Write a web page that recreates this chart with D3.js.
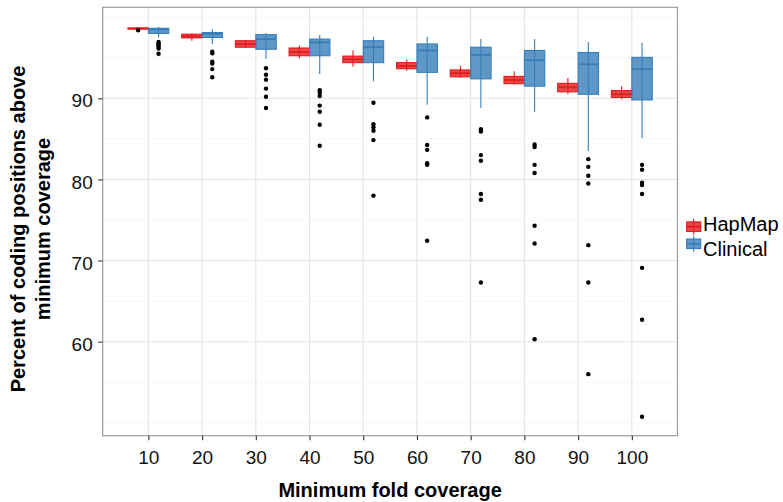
<!DOCTYPE html>
<html>
<head>
<meta charset="utf-8">
<script src="https://cdn.jsdelivr.net/npm/d3@7"></script>
<style>
  html, body { margin: 0; padding: 0; background: #fff; }
  svg { display: block; font-family: "Liberation Sans", Arial, Helvetica, sans-serif; }
</style>
</head>
<body>
<svg id="chart" width="783" height="502"></svg>
<script>
// Minimum fold coverage levels on the x axis
const coverage = [10, 20, 30, 40, 50, 60, 70, 80, 90, 100];
const yTicks = [60, 70, 80, 90];
const yMinor = [50, 55, 65, 75, 85, 95, 100];
const seriesNames = ["HapMap", "Clinical"];
const seriesColors = ["#E41A1C", "#377EB8"];

// Box statistics per coverage level: lower whisker, Q1, median, Q3, upper whisker
const hapmapLow    = [98.52, 97.10, 96.20, 94.90, 93.90, 93.40, 92.55, 91.70, 90.50, 89.90];
const hapmapQ1     = [98.58, 97.45, 96.30, 95.25, 94.40, 93.65, 92.65, 91.80, 90.80, 90.10];
const hapmapMedian = [98.62, 97.65, 96.70, 95.70, 94.80, 94.00, 93.10, 92.25, 91.35, 90.50];
const hapmapQ3     = [98.66, 97.90, 97.10, 96.20, 95.20, 94.40, 93.50, 92.70, 91.85, 90.95];
const hapmapHigh   = [98.70, 98.00, 97.20, 96.50, 95.90, 94.80, 94.00, 93.35, 92.50, 91.50];
const hapmapOutliers = [[98.40], [], [], [], [], [], [], [], [], []];

const clinicalLow    = [97.52, 96.70, 94.85, 93.00, 92.10, 89.20, 88.80, 88.35, 83.50, 85.10];
const clinicalQ1     = [98.00, 97.50, 96.05, 95.25, 94.40, 93.20, 92.40, 91.50, 90.50, 89.80];
const clinicalMedian = [98.50, 97.95, 97.30, 96.90, 96.30, 95.90, 95.35, 94.70, 94.20, 93.60];
const clinicalQ3     = [98.63, 98.10, 97.85, 97.30, 97.10, 96.70, 96.30, 95.90, 95.65, 95.05];
const clinicalHigh   = [98.83, 98.50, 98.05, 97.80, 97.60, 97.60, 97.30, 97.30, 96.95, 96.85];
const clinicalOutliers = [
  [96.95, 96.75, 96.55, 96.35, 96.15, 95.50],
  [95.75, 95.55, 94.50, 94.30, 93.60, 92.60],
  [93.70, 92.90, 92.30, 91.20, 90.20, 88.80],
  [91.00, 90.68, 90.30, 89.10, 88.35, 86.75, 84.15],
  [89.45, 86.80, 86.43, 86.00, 84.85, 78.00],
  [87.65, 84.25, 83.65, 82.00, 81.80, 72.45],
  [86.20, 85.90, 83.00, 82.30, 78.20, 77.50, 67.30],
  [84.30, 84.00, 81.80, 80.80, 74.30, 72.10, 60.30],
  [82.50, 81.55, 80.45, 79.50, 71.90, 67.30, 56.00],
  [81.80, 81.20, 79.60, 79.30, 78.20, 69.10, 62.70, 50.75]
];

// Assemble one record per box
const boxes = [];
coverage.forEach((c, i) => {
  boxes.push({ cov: c, s: 0, low: hapmapLow[i], q1: hapmapQ1[i], med: hapmapMedian[i],
               q3: hapmapQ3[i], high: hapmapHigh[i], out: hapmapOutliers[i] });
  boxes.push({ cov: c, s: 1, low: clinicalLow[i], q1: clinicalQ1[i], med: clinicalMedian[i],
               q3: clinicalQ3[i], high: clinicalHigh[i], out: clinicalOutliers[i] });
});

const panel = { left: 102.7, right: 677.5, top: 7.3, bottom: 435.7 };
const x = d3.scaleLinear().domain([1.5, 108.5]).range([panel.left, panel.right]);
const y = d3.scaleLinear().domain([48.41, 101.22]).range([panel.bottom, panel.top]);
const boxW = 3.8;                         // width of one dodged box, in coverage units
const offset = s => (s === 0 ? -boxW / 2 : boxW / 2);

const svg = d3.select("#chart");

// Panel background and grid
svg.append("rect")
  .attr("x", panel.left).attr("y", panel.top)
  .attr("width", panel.right - panel.left).attr("height", panel.bottom - panel.top)
  .attr("fill", "#fff");

const grid = svg.append("g");
grid.selectAll("line.minor").data(yMinor).join("line")
  .attr("class", "minor")
  .attr("x1", panel.left).attr("x2", panel.right)
  .attr("y1", d => y(d)).attr("y2", d => y(d))
  .attr("stroke", "#f3f3f3").attr("stroke-width", 0.7);
grid.selectAll("line.majorY").data(yTicks).join("line")
  .attr("class", "majorY")
  .attr("x1", panel.left).attr("x2", panel.right)
  .attr("y1", d => y(d)).attr("y2", d => y(d))
  .attr("stroke", "#e4e4e4").attr("stroke-width", 1.1);
grid.selectAll("line.majorX").data(coverage).join("line")
  .attr("class", "majorX")
  .attr("x1", d => x(d)).attr("x2", d => x(d))
  .attr("y1", panel.top).attr("y2", panel.bottom)
  .attr("stroke", "#e4e4e4").attr("stroke-width", 1.1);

// Boxplots
const marks = svg.append("g");
const g = marks.selectAll("g.box").data(boxes).join("g").attr("class", "box");

g.append("line")
  .attr("x1", d => x(d.cov + offset(d.s))).attr("x2", d => x(d.cov + offset(d.s)))
  .attr("y1", d => y(d.high)).attr("y2", d => y(d.low))
  .attr("stroke", d => seriesColors[d.s]).attr("stroke-width", 1.1);

g.append("rect")
  .attr("x", d => x(d.cov + offset(d.s) - boxW / 2))
  .attr("width", d => x(d.cov + offset(d.s) + boxW / 2) - x(d.cov + offset(d.s) - boxW / 2))
  .attr("y", d => y(d.q3))
  .attr("height", d => Math.max(y(d.q1) - y(d.q3), 1))
  .attr("fill", d => seriesColors[d.s]).attr("fill-opacity", 0.8)
  .attr("stroke", d => seriesColors[d.s]).attr("stroke-width", 1.1);

g.append("line")
  .attr("x1", d => x(d.cov + offset(d.s) - boxW / 2))
  .attr("x2", d => x(d.cov + offset(d.s) + boxW / 2))
  .attr("y1", d => y(d.med)).attr("y2", d => y(d.med))
  .attr("stroke", d => seriesColors[d.s]).attr("stroke-width", 1.8);

g.selectAll("circle").data(d => d.out.map(v => ({ cov: d.cov, s: d.s, v }))).join("circle")
  .attr("cx", d => x(d.cov + offset(d.s)))
  .attr("cy", d => y(d.v))
  .attr("r", 2.2)
  .attr("fill", "#000");

// Panel border
svg.append("rect")
  .attr("x", panel.left).attr("y", panel.top)
  .attr("width", panel.right - panel.left).attr("height", panel.bottom - panel.top)
  .attr("fill", "none").attr("stroke", "#9c9c9c").attr("stroke-width", 1.2);

// Axes
const xAxis = svg.append("g")
  .attr("transform", `translate(0,${panel.bottom})`)
  .call(d3.axisBottom(x).tickValues(coverage).tickSize(4.5).tickPadding(5).tickFormat(d3.format("d")));
const yAxis = svg.append("g")
  .attr("transform", `translate(${panel.left},0)`)
  .call(d3.axisLeft(y).tickValues(yTicks).tickSize(4.5).tickPadding(5.5).tickFormat(d3.format("d")));

[xAxis, yAxis].forEach(a => {
  a.select(".domain").remove();
  a.selectAll(".tick line").attr("stroke", "#333").attr("stroke-width", 1.1);
  a.selectAll(".tick text")
    .attr("fill", "#111").attr("font-size", 19)
    .attr("font-family", "'Liberation Sans', Arial, Helvetica, sans-serif");
});
xAxis.selectAll(".tick text").attr("dy", null).attr("y", 28.6);
yAxis.selectAll(".tick text").attr("dy", null).attr("y", 8.6);

// Axis titles
svg.append("text")
  .attr("x", (panel.left + panel.right) / 2).attr("y", 496.5)
  .attr("text-anchor", "middle")
  .attr("font-size", 20).attr("font-weight", "bold").attr("fill", "#000")
  .text("Minimum fold coverage");

const yTitle = svg.append("text")
  .attr("transform", "translate(0,229) rotate(-90)")
  .attr("text-anchor", "middle")
  .attr("font-size", 20).attr("font-weight", "bold").attr("fill", "#000");
yTitle.append("tspan").attr("x", 0).attr("y", 25).text("Percent of coding positions above");
yTitle.append("tspan").attr("x", 0).attr("y", 49.5).text("minimum coverage");

// Legend
const legend = svg.append("g");
const keyY = [226.7, 243.8];
const textY = [230.7, 255.5];
seriesNames.forEach((name, i) => {
  const k = legend.append("g");
  const cx = 693.7;
  k.append("line")
    .attr("x1", cx).attr("x2", cx)
    .attr("y1", keyY[i] - 8).attr("y2", keyY[i] + 8)
    .attr("stroke", seriesColors[i]).attr("stroke-width", 1.1);
  k.append("rect")
    .attr("x", cx - 7).attr("y", keyY[i] - 4.8)
    .attr("width", 14).attr("height", 9.6)
    .attr("fill", seriesColors[i]).attr("fill-opacity", 0.8)
    .attr("stroke", seriesColors[i]).attr("stroke-width", 1.1);
  k.append("line")
    .attr("x1", cx - 7).attr("x2", cx + 7)
    .attr("y1", keyY[i]).attr("y2", keyY[i])
    .attr("stroke", seriesColors[i]).attr("stroke-width", 1.8);
  legend.append("text")
    .attr("x", 703).attr("y", textY[i])
    .attr("font-size", 20).attr("fill", "#000")
    .text(name);
});
</script>
</body>
</html>
